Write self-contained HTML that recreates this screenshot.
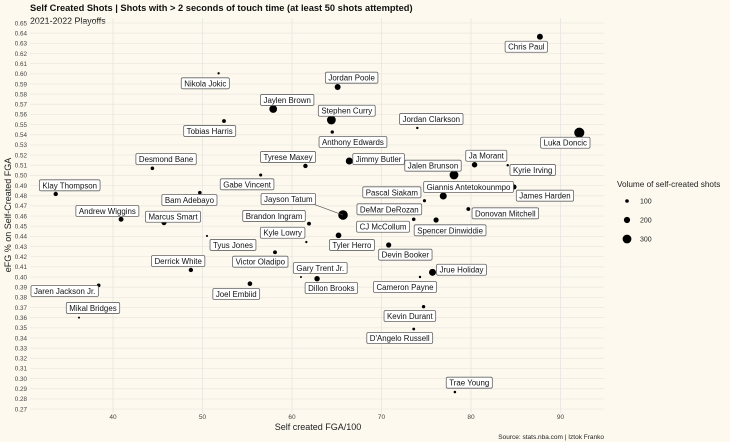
<!DOCTYPE html>
<html><head><meta charset="utf-8"><style>
body{margin:0;background:#fdf9ee;}
svg{display:block;font-family:"Liberation Sans",sans-serif;}
</style></head><body>
<svg id="c" width="730" height="442" xmlns="http://www.w3.org/2000/svg">
<rect width="730" height="442" fill="#fdf9ee"/>
<text x="30" y="11" font-size="9.3" font-weight="bold" fill="#111">Self Created Shots | Shots with &gt; 2 seconds of touch time (at least 50 shots attempted)</text>
<text x="30" y="24" font-size="8.8" fill="#111">2021-2022 Playoffs</text>
<g id="grid"></g>
<g id="axes"></g>
<g id="marks"></g>
<g id="labels"></g>
<text x="318" y="430" text-anchor="middle" font-size="9" fill="#222">Self created FGA/100</text>
<text transform="translate(11,215) rotate(-90)" text-anchor="middle" font-size="9" fill="#222">eFG % on Self-Created FGA</text>
<text x="604" y="439" text-anchor="end" font-size="6.5" fill="#222">Source: stats.nba.com | Iztok Franko</text>
<g id="legend">
<text x="617" y="187" font-size="8.2" fill="#222">Volume of self-created shots</text>
</g>
</svg>
<script>
const players=["Chris Paul","Nikola Jokic","Jordan Poole","Jaylen Brown","Stephen Curry","Tobias Harris","Jordan Clarkson","Anthony Edwards","Luka Doncic","Desmond Bane","Tyrese Maxey","Jimmy Butler","Gabe Vincent","Ja Morant","Kyrie Irving","Jalen Brunson","Klay Thompson","Bam Adebayo","Giannis Antetokounmpo","James Harden","Pascal Siakam","Donovan Mitchell","DeMar DeRozan","Spencer Dinwiddie","CJ McCollum","Jayson Tatum","Brandon Ingram","Kyle Lowry","Tyler Herro","Devin Booker","Gary Trent Jr.","Dillon Brooks","Cameron Payne","Jrue Holiday","Victor Oladipo","Joel Embiid","Tyus Jones","Derrick White","Jaren Jackson Jr.","Mikal Bridges","Andrew Wiggins","Marcus Smart","Kevin Durant","D'Angelo Russell","Trae Young"];
const fga100=[87.7,51.8,65.1,57.9,64.4,52.4,74.0,64.5,92.1,44.4,61.5,66.4,56.5,80.4,84.1,78.1,33.6,49.7,76.9,84.8,74.8,79.7,73.6,76.1,72.6,65.7,61.9,61.6,65.2,70.8,61.0,62.8,74.3,75.7,58.1,55.3,50.5,48.7,38.4,36.2,40.9,45.7,74.7,73.6,78.2];
const efg=[0.6365,0.6005,0.587,0.5654,0.5545,0.5535,0.5467,0.5427,0.542,0.507,0.5093,0.5142,0.5004,0.5105,0.510,0.5004,0.4817,0.483,0.4797,0.4886,0.4751,0.4669,0.4568,0.4561,0.4492,0.461,0.4525,0.4344,0.441,0.4315,0.400,0.3983,0.400,0.4046,0.4243,0.3934,0.4404,0.4069,0.3918,0.360,0.4568,0.4534,0.3708,0.3488,0.2868];
const volume=[190,50,190,260,300,110,55,90,350,100,130,230,80,170,55,300,130,100,230,160,80,110,100,160,100,330,110,50,180,160,40,170,55,230,110,140,40,130,100,40,150,150,90,70,60];
const xTicks=[40,50,60,70,80,90];
const yTicks=[0.27,0.28,0.29,0.30,0.31,0.32,0.33,0.34,0.35,0.36,0.37,0.38,0.39,0.40,0.41,0.42,0.43,0.44,0.45,0.46,0.47,0.48,0.49,0.50,0.51,0.52,0.53,0.54,0.55,0.56,0.57,0.58,0.59,0.60,0.61,0.62,0.63,0.64,0.65];
const legendValues=[100,200,300];
// label offsets (layout, px)
const labDX=[-13.6,-13.3,14,14,15.4,-14.3,14,20.7,-14,13.7,-17.4,29.3,-13.6,11.7,25,-21,14,-10.4,25.3,31,-32.6,37,-24.4,14,-21.7,-54.7,-35,-23.7,13.4,16.7,19.3,14.3,-15,29,-14.7,-13.7,26,-12.7,-34,14,-13.7,9,-13.7,-14,14.4];
const labDY=[10,10,-9.3,-9,-9.3,10,-9,10,10,-9.3,-9,-2,9.3,-9,4.7,-9.3,-8.7,7.3,-9,8.7,-8.4,4.3,-10,10.3,-0.3,-16,-7.7,-9.3,9.7,9.7,-9,9.3,10,-2.6,9.4,10.3,9,-9,5.7,-9.7,-8.3,-6,9.3,9,-9.3];
const NS="http://www.w3.org/2000/svg";
const L=30,R=604,T=18,B=413;
const xs=v=>113+(v-40)*8.95;
const ys=v=>23+(0.65-v)*1016;
const rs=v=>0.5+0.013*v;
function mk(tag,attrs,parent){const e=document.createElementNS(NS,tag);for(const k in attrs)e.setAttribute(k,attrs[k]);parent.appendChild(e);return e;}
const grid=document.getElementById('grid'),axes=document.getElementById('axes'),marks=document.getElementById('marks'),labels=document.getElementById('labels'),legend=document.getElementById('legend');
yTicks.forEach(t=>{const y=ys(t);
 const g=mk('line',{x1:L,x2:R,y1:y,y2:y,stroke:'#ebe8e1','stroke-width':0.7},grid);
 
 
 const tx=mk('text',{x:27,y:y+2.3,'text-anchor':'end','font-size':6.3,fill:'#444'},axes);
 tx.textContent=t.toFixed(2);
 
 
});
xTicks.forEach(t=>{const x=xs(t);
 const g=mk('line',{x1:x,x2:x,y1:T,y2:B,stroke:'#e6e5e2','stroke-width':0.8},grid);
 
 
 const tx=mk('text',{x:x,y:419,'text-anchor':'middle','font-size':6.5,fill:'#444'},axes);
 tx.textContent=t;
 
 
});
players.forEach((p,i)=>{
 const cx=xs(fga100[i]),cy=ys(efg[i]);
 const c=mk('circle',{cx:cx,cy:cy,r:rs(volume[i]),fill:'#000'},marks);
 
 
 const lx=cx+labDX[i],ly=cy+labDY[i];
 if(Math.abs(labDX[i])>50){const s=mk('line',{x1:cx,y1:cy,x2:lx+25,y2:ly+5,stroke:'#555','stroke-width':0.7},marks);
  
  }
 const g=mk('g',{},labels);
 
 
 const r=mk('rect',{fill:'#fff',stroke:'#666','stroke-width':0.8,rx:1.5},g);
 const t=mk('text',{x:lx,y:ly+3,'text-anchor':'middle','font-size':7.9,fill:'#111'},g);
 t.textContent=p;
 const w=t.getComputedTextLength();
 r.setAttribute('x',lx-w/2-3);r.setAttribute('y',ly-5.5);r.setAttribute('width',w+6);r.setAttribute('height',11);
});
legendValues.forEach((v,i)=>{const y=201+i*19;
 const c=mk('circle',{cx:627,cy:y,r:rs(v),fill:'#000'},legend);
 
 
 const t=mk('text',{x:640,y:y+2.5,'font-size':7,fill:'#222'},legend);
 t.textContent=v;
 
 
});
</script>
</body></html>
